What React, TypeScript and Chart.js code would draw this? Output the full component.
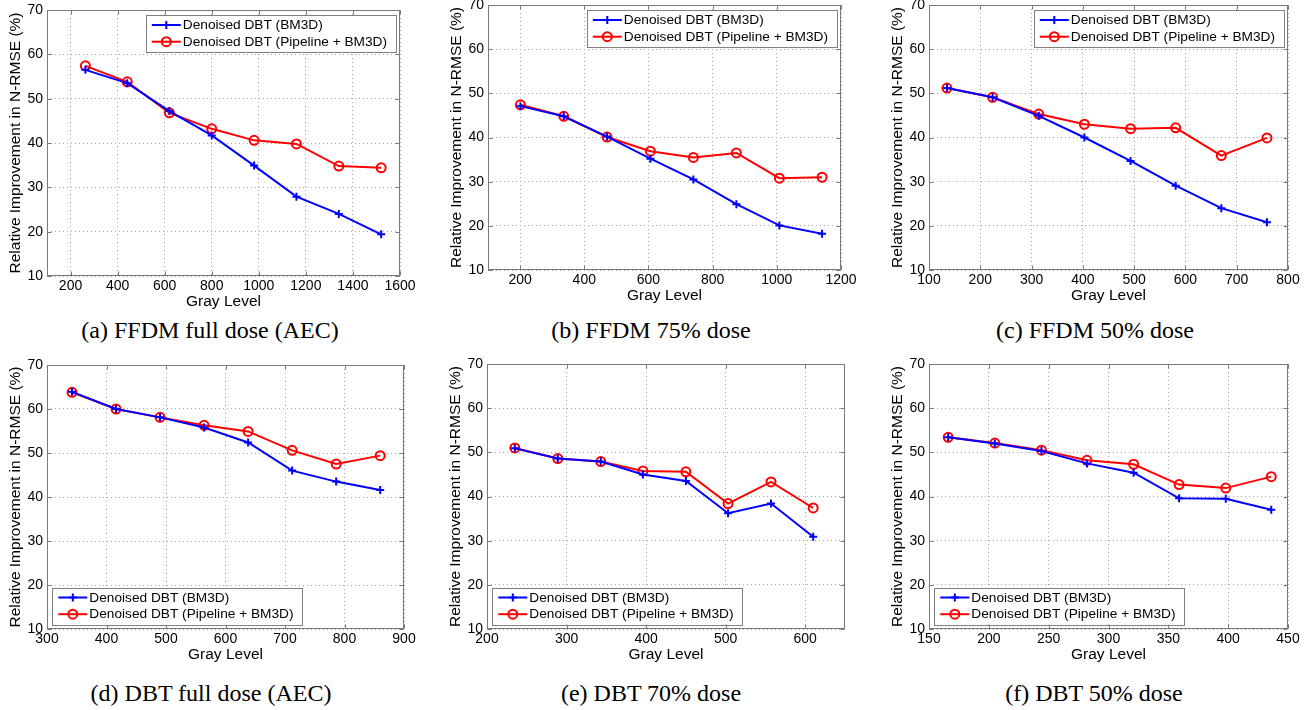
import React, { useEffect, useRef } from "react";
import { Chart, registerables } from "chart.js";

Chart.register(...registerables);

// ---------- text ----------
const LABEL_BM3D = "Denoised DBT (BM3D)";
const LABEL_PIPE = "Denoised DBT (Pipeline + BM3D)";
const X_TITLE = "Gray Level";
const Y_TITLE = "Relative Improvement in N-RMSE (%)";

// ---------- shared y ticks ----------
const yTicks = [10, 20, 30, 40, 50, 60, 70];

// ---------- (a) FFDM full dose (AEC) ----------
const aCaption = "(a) FFDM full dose (AEC)";
const aGray = [263, 441, 620, 800, 980, 1160, 1340, 1520];
const aBM3D = [56.5, 53.5, 47.2, 41.7, 34.9, 27.9, 24.0, 19.4];
const aPipe = [57.4, 53.8, 46.8, 43.2, 40.6, 39.8, 34.8, 34.4];
const aTicks = [200, 400, 600, 800, 1000, 1200, 1400, 1600];

// ---------- (b) FFDM 75% dose ----------
const bCaption = "(b) FFDM 75% dose";
const bGray = [201, 336, 471, 606, 740, 874, 1008, 1141];
const bBM3D = [47.1, 44.8, 40.2, 35.2, 30.5, 24.9, 20.1, 18.2];
const bPipe = [47.4, 44.8, 40.1, 36.9, 35.5, 36.5, 30.8, 31.0];
const bTicks = [200, 400, 600, 800, 1000, 1200];

// ---------- (c) FFDM 50% dose ----------
const cCaption = "(c) FFDM 50% dose";
const cGray = [135, 224, 314, 403, 493, 581, 670, 759];
const cBM3D = [51.2, 49.1, 44.9, 40.0, 34.7, 29.1, 24.0, 20.8];
const cPipe = [51.2, 49.1, 45.3, 43.0, 42.0, 42.2, 35.9, 39.9];
const cTicks = [100, 200, 300, 400, 500, 600, 700, 800];

// ---------- (d) DBT full dose (AEC) ----------
const dCaption = "(d) DBT full dose (AEC)";
const dGray = [342, 416, 490, 564, 638, 712, 786, 860];
const dBM3D = [63.9, 60.0, 58.1, 55.8, 52.4, 46.0, 43.5, 41.6];
const dPipe = [63.8, 60.0, 58.1, 56.3, 54.9, 50.6, 47.5, 49.4];
const dTicks = [300, 400, 500, 600, 700, 800, 900];

// ---------- (e) DBT 70% dose ----------
const eCaption = "(e) DBT 70% dose";
const eGray = [235, 289, 343, 396, 450, 503, 557, 610];
const eBM3D = [50.9, 48.6, 47.9, 45.0, 43.5, 36.2, 38.4, 30.9];
const ePipe = [51.0, 48.6, 47.9, 45.8, 45.6, 38.4, 43.3, 37.4];
const eTicks = [200, 300, 400, 500, 600];

// ---------- (f) DBT 50% dose ----------
const fCaption = "(f) DBT 50% dose";
const fGray = [166, 205, 244, 282, 321, 359, 398, 436];
const fBM3D = [53.4, 52.0, 50.3, 47.5, 45.4, 39.6, 39.5, 37.0];
const fPipe = [53.4, 52.1, 50.5, 48.2, 47.3, 42.7, 41.9, 44.5];
const fTicks = [150, 200, 250, 300, 350, 400, 450];

// ---------- layout (positions only) ----------
type Panel = {
  caption: string;
  gray: number[];
  bm3d: number[];
  pipe: number[];
  ticks: number[];
  xMin: number;
  xMax: number;
  L: number; T: number; R: number; B: number;
  corner: "ne" | "sw";
  capX: number; capY: number;
};

const PANELS: Panel[] = [
  { caption: aCaption, gray: aGray, bm3d: aBM3D, pipe: aPipe, ticks: aTicks, xMin: 100, xMax: 1600, L: 47, T: 10, R: 400, B: 276, corner: "ne", capX: 210, capY: 330 },
  { caption: bCaption, gray: bGray, bm3d: bBM3D, pipe: bPipe, ticks: bTicks, xMin: 100, xMax: 1200, L: 488, T: 5, R: 841, B: 270, corner: "ne", capX: 651, capY: 330 },
  { caption: cCaption, gray: cGray, bm3d: cBM3D, pipe: cPipe, ticks: cTicks, xMin: 100, xMax: 800, L: 929, T: 5, R: 1288, B: 270, corner: "ne", capX: 1095, capY: 330 },
  { caption: dCaption, gray: dGray, bm3d: dBM3D, pipe: dPipe, ticks: dTicks, xMin: 300, xMax: 900, L: 47, T: 365, R: 404, B: 629, corner: "sw", capX: 211, capY: 693 },
  { caption: eCaption, gray: eGray, bm3d: eBM3D, pipe: ePipe, ticks: eTicks, xMin: 200, xMax: 650, L: 487, T: 364, R: 845, B: 629, corner: "sw", capX: 651, capY: 693 },
  { caption: fCaption, gray: fGray, bm3d: fBM3D, pipe: fPipe, ticks: fTicks, xMin: 150, xMax: 450, L: 929, T: 364, R: 1288, B: 629, corner: "sw", capX: 1094, capY: 693 },
];

const Y_AXIS_W = 44;
const X_AXIS_H = 36;
const PAD_TOP = 8;
const PAD_RIGHT = 20;

const SANS = '"Liberation Sans", Arial, Helvetica, sans-serif';
const AXIS_COLOR = "#7a7a7a";
const GRID_COLOR = "#a8a8a8";

// box + inward ticks
const boxPlugin = {
  id: "matlabBox",
  beforeDatasetsDraw(chart: any) {
    const { ctx, chartArea: ca, scales } = chart;
    ctx.save();
    ctx.strokeStyle = AXIS_COLOR;
    ctx.lineWidth = 1;
    const l = Math.round(ca.left) + 0.5;
    const t = Math.round(ca.top) + 0.5;
    const r = Math.round(ca.right) - 0.5;
    const b = Math.round(ca.bottom) - 0.5;
    ctx.strokeRect(l, t, r - l, b - t);
    const tl = 4;
    ctx.beginPath();
    scales.x.ticks.forEach((tk: any) => {
      const px = Math.round(scales.x.getPixelForValue(tk.value)) + 0.5;
      ctx.moveTo(px, b); ctx.lineTo(px, b - tl);
      ctx.moveTo(px, t); ctx.lineTo(px, t + tl);
    });
    scales.y.ticks.forEach((tk: any) => {
      const py = Math.round(scales.y.getPixelForValue(tk.value)) + 0.5;
      ctx.moveTo(l, py); ctx.lineTo(l + tl, py);
      ctx.moveTo(r, py); ctx.lineTo(r - tl, py);
    });
    ctx.stroke();
    ctx.restore();
  },
};

// in-axes legend
const legendPlugin = {
  id: "boxLegend",
  afterDraw(chart: any, _args: any, opts: any) {
    const { ctx, chartArea: ca } = chart;
    const w = 250, h = 37;
    let x: number, y: number;
    if (opts.corner === "ne") { x = ca.right - 4.5 - w; y = ca.top + 5; }
    else { x = ca.left + 5; y = ca.bottom - 4.5 - h; }
    ctx.save();
    ctx.fillStyle = "#ffffff";
    ctx.fillRect(x, y, w, h);
    ctx.strokeStyle = "#808080";
    ctx.lineWidth = 1;
    ctx.strokeRect(Math.round(x) + 0.5, Math.round(y) + 0.5, w, h);
    chart.data.datasets.forEach((ds: any, i: number) => {
      const cy = y + 10 + i * 16.7;
      const lx0 = x + 6.3, lx1 = x + 35.3;
      ctx.strokeStyle = ds.borderColor;
      ctx.lineWidth = 2;
      ctx.beginPath();
      ctx.moveTo(lx0, cy); ctx.lineTo(lx1, cy);
      ctx.stroke();
      const mx = (lx0 + lx1) / 2;
      ctx.beginPath();
      if (ds.pointStyle === "cross") {
        const rr = ds.pointRadius;
        ctx.moveTo(mx - rr, cy); ctx.lineTo(mx + rr, cy);
        ctx.moveTo(mx, cy - rr); ctx.lineTo(mx, cy + rr);
      } else {
        ctx.arc(mx, cy, ds.pointRadius, 0, Math.PI * 2);
      }
      ctx.lineWidth = ds.pointBorderWidth;
      ctx.stroke();
      ctx.fillStyle = "#000";
      ctx.font = `13.7px ${SANS}`;
      ctx.textBaseline = "middle";
      ctx.textAlign = "left";
      ctx.fillText(ds.label, x + 37.3, cy + 0.5);
    });
    ctx.restore();
  },
};

function PanelChart({ p }: { p: Panel }) {
  const ref = useRef<HTMLCanvasElement>(null);
  const width = p.R - p.L + Y_AXIS_W + PAD_RIGHT;
  const height = p.B - p.T + PAD_TOP + X_AXIS_H;

  useEffect(() => {
    if (!ref.current) return;
    const toPts = (ys: number[]) => p.gray.map((g, i) => ({ x: g, y: ys[i] }));
    const chart = new Chart(ref.current, {
      type: "line",
      data: {
        datasets: [
          {
            label: LABEL_BM3D,
            data: toPts(p.bm3d),
            borderColor: "#0000ff",
            backgroundColor: "#0000ff",
            borderWidth: 2,
            pointStyle: "cross",
            pointRadius: 4,
            pointBorderWidth: 2,
            pointBorderColor: "#0000ff",
            tension: 0,
          },
          {
            label: LABEL_PIPE,
            data: toPts(p.pipe),
            borderColor: "#ff0000",
            backgroundColor: "rgba(0,0,0,0)",
            borderWidth: 2,
            pointStyle: "circle",
            pointRadius: 4.5,
            pointBorderWidth: 2,
            pointBorderColor: "#ff0000",
            pointBackgroundColor: "rgba(0,0,0,0)",
            tension: 0,
          },
        ],
      },
      options: {
        responsive: false,
        animation: false,
        events: [],
        layout: { padding: { left: 0, top: PAD_TOP, right: PAD_RIGHT, bottom: 0 } },
        plugins: {
          legend: { display: false },
          tooltip: { enabled: false },
          boxLegend: { corner: p.corner },
        } as any,
        scales: {
          x: {
            type: "linear",
            min: p.xMin,
            max: p.xMax,
            afterBuildTicks: (s: any) => { s.ticks = p.ticks.map((v) => ({ value: v })); },
            afterFit: (s: any) => {
              s.height = X_AXIS_H;
              s.paddingLeft = 0; s.paddingRight = 0; s.paddingTop = 0; s.paddingBottom = 0;
            },
            ticks: {
              padding: 2,
              color: "#000",
              autoSkip: false,
              maxRotation: 0,
              font: { family: SANS, size: 14 },
              callback: (v: any) => String(v),
            },
            grid: { color: GRID_COLOR, lineWidth: 1, drawTicks: false },
            border: { display: false, dash: [1, 3] },
            title: {
              display: true,
              text: X_TITLE,
              color: "#000",
              font: { family: SANS, size: 15.5 },
              padding: { top: 0, bottom: 1 },
            },
          },
          y: {
            type: "linear",
            min: 10,
            max: 70,
            afterBuildTicks: (s: any) => { s.ticks = yTicks.map((v) => ({ value: v })); },
            afterFit: (s: any) => {
              s.width = Y_AXIS_W;
              s.paddingLeft = 0; s.paddingRight = 0; s.paddingTop = 0; s.paddingBottom = 0;
            },
            ticks: {
              padding: 4,
              color: "#000",
              autoSkip: false,
              font: { family: SANS, size: 14 },
              callback: (v: any) => String(v),
            },
            grid: { color: GRID_COLOR, lineWidth: 1, drawTicks: false },
            border: { display: false, dash: [1, 3] },
            title: {
              display: true,
              text: Y_TITLE,
              color: "#000",
              font: { family: SANS, size: 15.5 },
              padding: { top: 3, bottom: 0 },
            },
          },
        },
      },
      plugins: [boxPlugin, legendPlugin],
    } as any);
    return () => chart.destroy();
  }, [p]);

  return (
    <>
      <canvas
        ref={ref}
        width={width}
        height={height}
        style={{
          position: "absolute",
          left: p.L - Y_AXIS_W,
          top: p.T - PAD_TOP,
          width,
          height,
        }}
      />
      <div
        style={{
          position: "absolute",
          left: p.capX,
          top: p.capY,
          transform: "translate(-50%, -50%)",
          fontFamily: '"Liberation Serif", "Times New Roman", serif',
          fontSize: 24,
          lineHeight: 1,
          whiteSpace: "nowrap",
          color: "#000",
        }}
      >
        {p.caption}
      </div>
    </>
  );
}

export default function App() {
  return (
    <div
      style={{
        position: "absolute",
        left: 0,
        top: 0,
        width: 1310,
        height: 710,
        background: "#ffffff",
        overflow: "hidden",
      }}
    >
      {PANELS.map((p, i) => (
        <PanelChart key={i} p={p} />
      ))}
    </div>
  );
}
